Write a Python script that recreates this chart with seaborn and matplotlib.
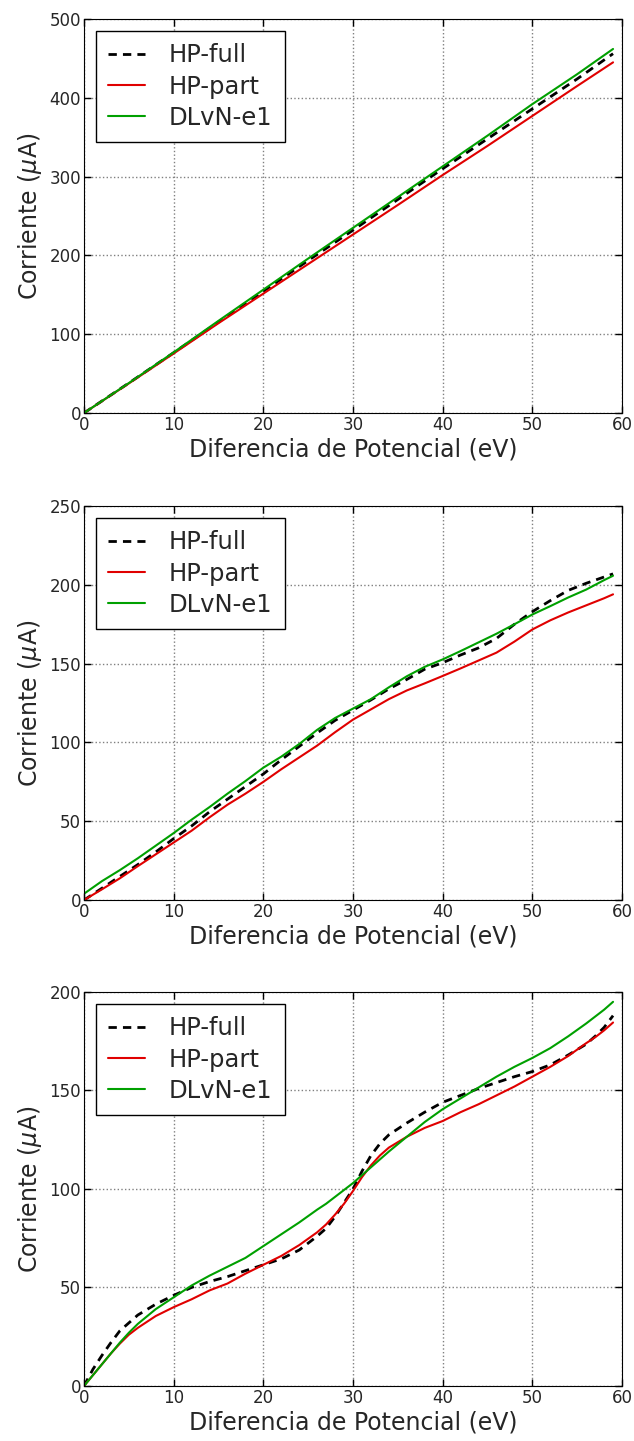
import numpy as np
import pandas as pd
import matplotlib
matplotlib.use("Agg")
import matplotlib.pyplot as plt
import seaborn as sns

# --- panel 1 ---
x_top = [0, 5, 10, 15, 20, 25, 30, 35, 40, 45, 50, 55, 59]
full_top = [0, 38, 76.5, 115.5, 154.5, 193.5, 232, 271, 310, 348, 386, 424, 456]
part_top = [0, 37.5, 75.5, 114, 151.5, 189, 226.5, 264, 302, 339, 377, 415, 445]
dlvn_top = [0, 38, 77, 117, 156.5, 196, 235, 274, 313, 352, 392, 430, 462]

# --- panel 2 ---
x_mid = [0, 2, 4, 6, 8, 10, 12, 14, 16, 18, 20, 22, 24, 26, 28, 30,
         32, 34, 36, 38, 40, 42, 44, 46, 48, 50, 52, 54, 56, 58, 59]
full_mid = [0, 7.5, 15, 22.5, 30.5, 39, 47, 56, 64, 72, 80, 89, 97.5, 106, 114, 120.5,
            127, 134, 140, 146.5, 150.6, 155.5, 160, 166, 175, 183, 190, 196.5, 201, 205, 207]
part_mid = [0, 6.8, 13.8, 21.5, 29, 36.5, 44, 52.5, 60.5, 67.5, 75, 83, 90.5, 98, 106.5, 114.5,
            121, 127.5, 133, 137.5, 142.2, 147, 152, 157, 164, 171.7, 177.5, 182.5, 187, 191.5, 194]
dlvn_mid = [4, 12, 19, 26.5, 34.5, 42.5, 51, 59, 67.5, 75.5, 84, 91, 99, 108, 115.5, 121.5,
            127.5, 135, 142, 148, 152.7, 158, 163.5, 169, 175, 181.2, 186.5, 192, 197, 203, 205.8]

# --- panel 3 ---
x_bot = [0, 1, 2, 3, 4, 5, 6, 8, 10, 12, 14, 16, 18, 20, 22, 24, 26, 27, 28, 29, 30,
         31, 32, 33, 34, 36, 38, 40, 42, 44, 46, 48, 50, 52, 54, 56, 57, 58, 59]
full_bot = [0, 8.5, 15.5, 22, 28, 32, 36, 41.5, 46, 50, 53, 55.5, 58.5, 61.5, 64.5, 69, 76, 80, 86, 93, 100,
            109, 117, 123, 127.5, 133.5, 139, 144, 147.5, 151, 154, 157, 159.6, 163, 168, 173.5, 177.5, 182, 188]
part_bot = [0, 5.5, 11, 16.5, 21.5, 26, 29.5, 35.5, 40, 44, 48.5, 52, 57, 61.5, 66, 71.5, 78, 82, 87, 92.5, 99,
            106, 112, 117, 121, 126.5, 131, 134.5, 139, 143, 147.5, 152, 157, 162, 167.5, 174, 177, 180.5, 184.5]
dlvn_bot = [0, 5.5, 11, 16.5, 22, 27, 31.5, 39, 45, 51, 56, 60.5, 65, 71, 77, 83, 89.5, 92.5, 96, 99.5, 103,
            107, 111, 115, 119, 126.5, 134, 140.5, 146, 151.5, 157, 162, 166.5, 171.5, 177.5, 184, 187.5, 191, 195]

panels = [
    (x_top, full_top, part_top, dlvn_top, 500, 100),
    (x_mid, full_mid, part_mid, dlvn_mid, 250, 50),
    (x_bot, full_bot, part_bot, dlvn_bot, 200, 50),
]
bottoms = [0.7134, 0.3754, 0.0382]

sns.set_style("white", rc={
    "axes.edgecolor": "black",
    "axes.linewidth": 1.0,
    "xtick.direction": "in",
    "ytick.direction": "in",
    "xtick.top": True,
    "ytick.right": True,
    "xtick.bottom": True,
    "ytick.left": True,
})
plt.rcParams["font.family"] = ["DejaVu Sans"]
plt.rcParams["mathtext.fontset"] = "dejavusans"

fig = plt.figure(figsize=(6.34, 14.41), dpi=100)

for (x, full, part, dlvn, ymax, ystep), b in zip(panels, bottoms):
    ax = fig.add_axes([0.1325, b, 0.8486, 0.2734])
    df = pd.DataFrame({"x": x, "full": full, "part": part, "dlvn": dlvn})
    sns.lineplot(data=df, x="x", y="full", ax=ax, color="black", lw=2.0,
                 linestyle=(0, (3, 2.2)), label="HP-full")
    sns.lineplot(data=df, x="x", y="part", ax=ax, color="#e00000", lw=1.5, label="HP-part")
    sns.lineplot(data=df, x="x", y="dlvn", ax=ax, color="#00a000", lw=1.5, label="DLvN-e1")
    ax.set_xlim(0, 60)
    ax.set_ylim(0, ymax)
    ax.set_xticks(np.arange(0, 61, 10))
    ax.set_yticks(np.arange(0, ymax + 1, ystep))
    ax.grid(True, linestyle=":", color="#808080", linewidth=1.0)
    ax.tick_params(axis="both", labelsize=12, length=5, width=1, color="black", pad=2)
    ax.set_xlabel("Diferencia de Potencial (eV)", fontsize=17, labelpad=3)
    ax.set_ylabel(r"Corriente ($\mu$A)", fontsize=17, labelpad=4)
    leg = ax.legend(loc="upper left", fontsize=17.5, handlelength=1.5, handletextpad=1.0,
                    labelspacing=0.3, borderpad=0.5, borderaxespad=0.5,
                    fancybox=False, framealpha=1.0)
    leg.get_frame().set_edgecolor("black")
    leg.get_frame().set_linewidth(1.0)

fig.savefig("out.png", dpi=100)
